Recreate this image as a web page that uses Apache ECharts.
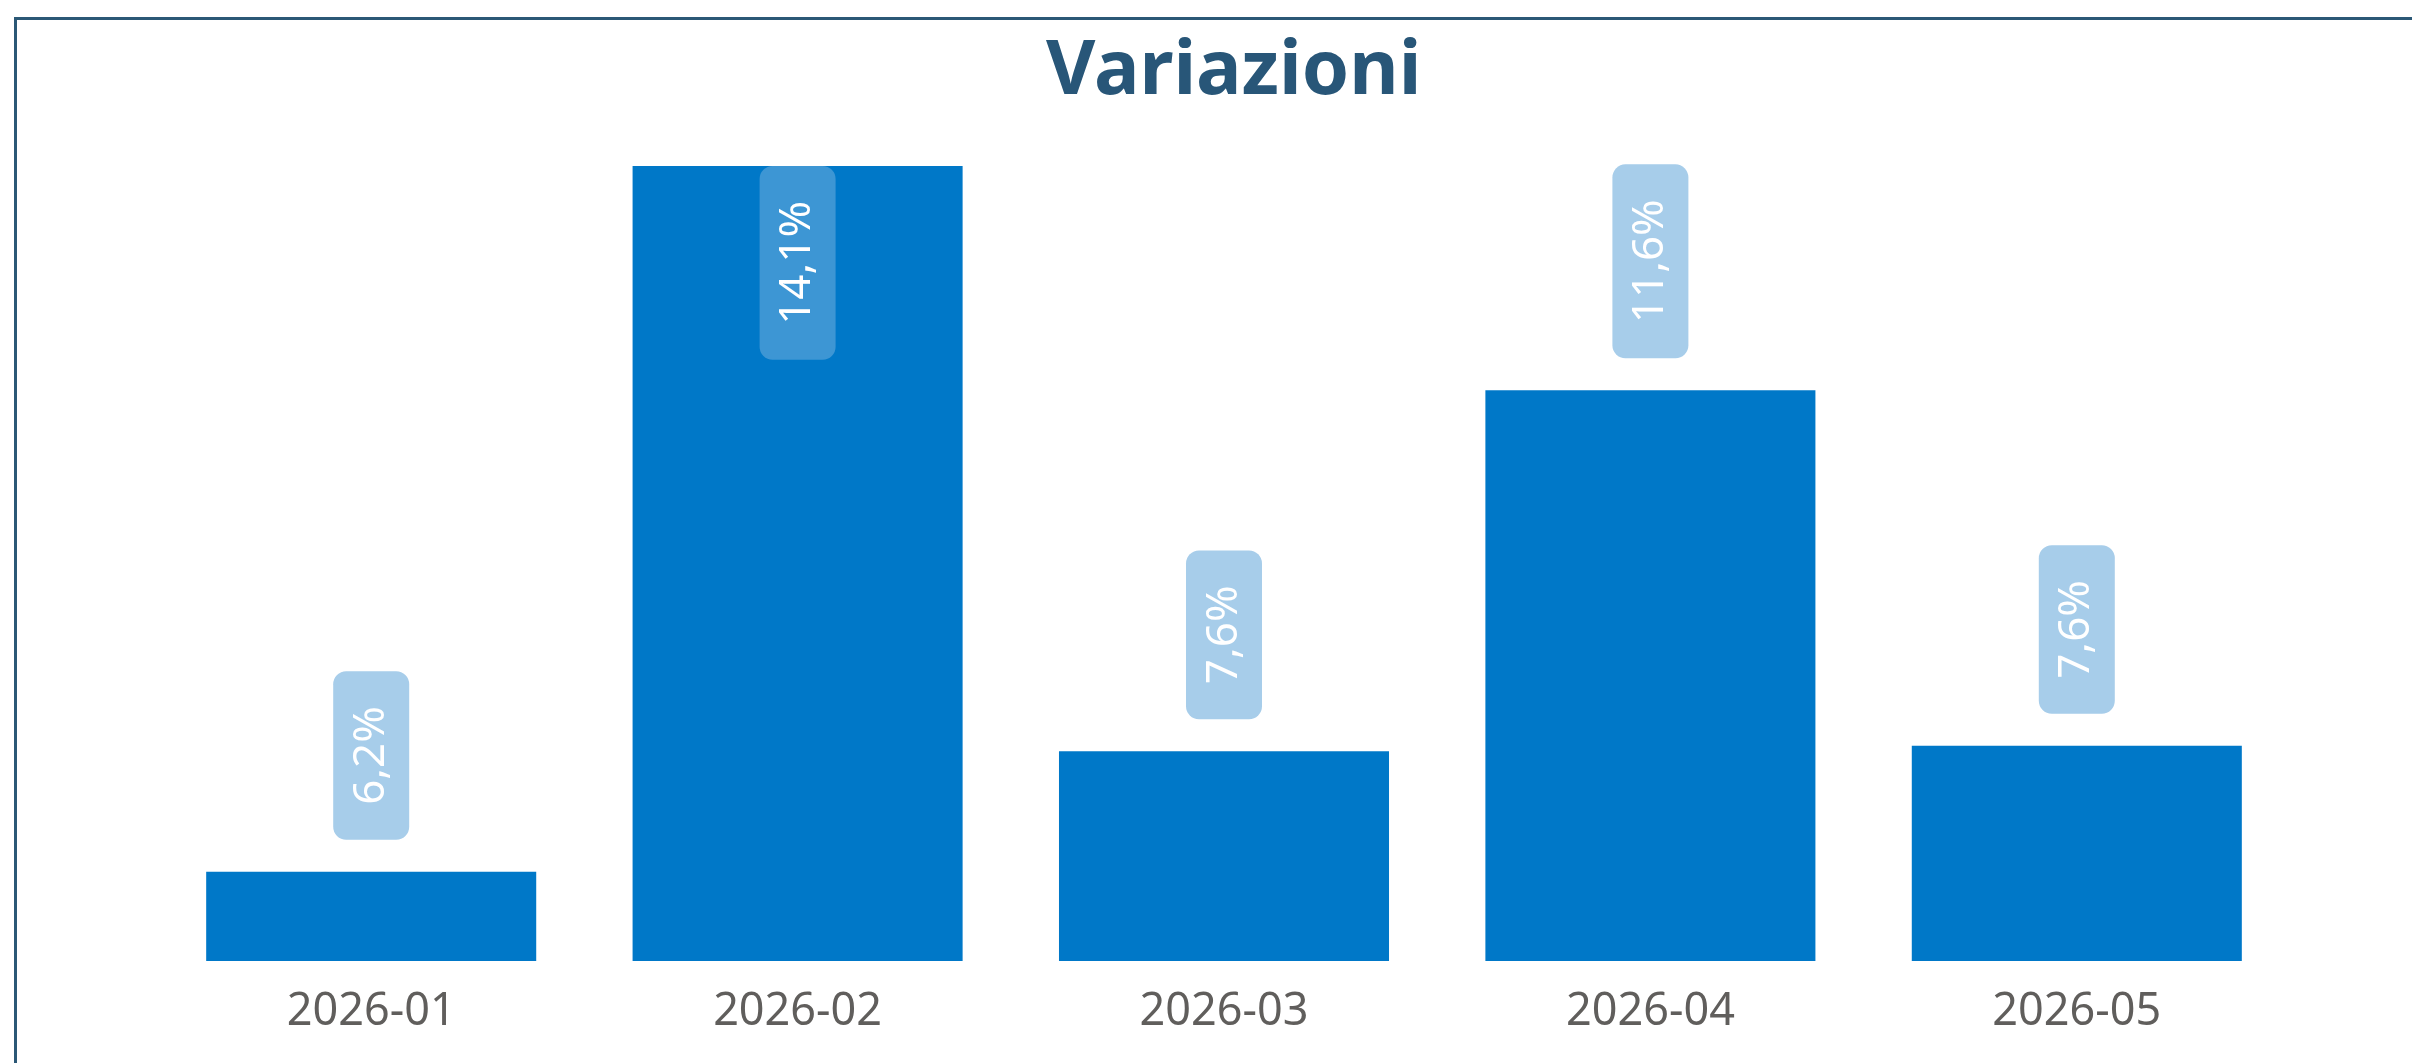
<!DOCTYPE html>
<html>
<head>
<meta charset="utf-8">
<script src="https://cdn.jsdelivr.net/npm/echarts@6/dist/echarts.min.js"></script>
<style>
  html, body { margin: 0; padding: 0; background: #fff; }
  #main { width: 2412px; height: 1063px; }
</style>
</head>
<body>
<div id="main"></div>
<script>
// data
const months = ['2026-01', '2026-02', '2026-03', '2026-04', '2026-05']
const variations = [6.23, 14.07, 7.57, 11.58, 7.63]
const axisMin = 5.24

const barColor = '#0078c8'
const chart = echarts.init(document.getElementById('main'))

const fmt = p => p.value.toFixed(1).replace('.', ',') + '%'

const labelTop = {
  show: true,
  position: 'top',
  distance: 32,
  rotate: 90,
  align: 'left',
  verticalAlign: 'middle',
  color: '#fff',
  fontFamily: 'Noto Sans',
  fontSize: 44,
  backgroundColor: '#a7cdea',
  borderRadius: 13,
  padding: [16, 35],
  formatter: fmt
}

// the tallest bar keeps its label inside
const maxVal = Math.max(...variations)
const barData = variations.map(v => v === maxVal
  ? { value: v, label: { position: 'insideTop', distance: 0, align: 'right', backgroundColor: '#3d96d4' } }
  : v)

chart.setOption({
  animation: false,
  title: {
    text: 'Variazioni',
    left: 1041,
    top: 29,
    textStyle: {
      color: '#285678',
      fontFamily: 'Noto Sans',
      fontWeight: 'bold',
      fontSize: 76
    }
  },
  graphic: [{
    type: 'rect',
    left: 13,
    top: 16,
    shape: { width: 2600, height: 1200 },
    style: { fill: 'none', stroke: '#2b5876', lineWidth: 3 },
    silent: true
  }],
  grid: {
    left: 158,
    right: 122,
    top: 166,
    bottom: 102
  },
  xAxis: {
    type: 'category',
    data: months,
    axisLine: { show: false },
    axisTick: { show: false },
    axisLabel: {
      margin: 29,
      color: '#605e5c',
      fontFamily: 'Noto Sans',
      fontSize: 45
    }
  },
  yAxis: {
    type: 'value',
    min: axisMin,
    max: v => v.max,
    show: false,
    splitLine: { show: false }
  },
  series: [{
    type: 'bar',
    data: barData,
    barCategoryGap: '22.6%',
    itemStyle: { color: barColor },
    label: labelTop
  }]
})
</script>
</body>
</html>
